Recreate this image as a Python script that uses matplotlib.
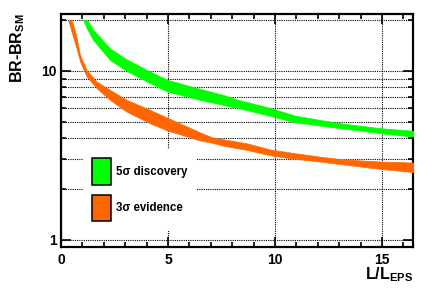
import matplotlib
matplotlib.use("Agg")
import matplotlib.pyplot as plt
from matplotlib.patches import Patch

plt.rcParams['font.family'] = ['Liberation Sans', 'DejaVu Sans']
plt.rcParams['font.weight'] = 'bold'
plt.rcParams['mathtext.fontset'] = 'custom'
plt.rcParams['mathtext.rm'] = 'Liberation Sans:bold'
plt.rcParams['mathtext.bf'] = 'Liberation Sans:bold'
plt.rcParams['mathtext.it'] = 'Liberation Sans:bold'

# 5 sigma discovery band
green_x = [1.04, 1.21, 1.51, 2.29, 3.07, 4.16, 4.99, 6.50, 7.58, 8.36, 9.77, 10.93, 12.10, 13.27, 14.95, 16.5]
green_hi = [20, 20, 17.5, 13.6, 11.7, 9.9, 8.84, 7.83, 7.21, 6.70, 6.04, 5.44, 5.13, 4.86, 4.58, 4.42]
green_lo = [20, 17.8, 15.2, 11.6, 10.0, 8.46, 7.54, 6.74, 6.29, 6.00, 5.42, 4.97, 4.75, 4.55, 4.28, 4.08]

# 3 sigma evidence band
orange_x = [0.34, 0.50, 0.70, 0.89, 1.20, 1.67, 2.29, 3.07, 4.16, 4.99, 6.50, 7.05, 7.58, 8.68, 9.77, 10.93, 12.10, 13.27, 14.95, 16.5]
orange_hi = [20, 20, 16.3, 12.4, 10.1, 8.64, 7.72, 6.74, 5.88, 5.27, 4.33, 4.05, 3.94, 3.73, 3.43, 3.26, 3.11, 2.99, 2.91, 2.87]
orange_lo = [20, 17.0, 14.0, 11.4, 9.26, 7.9, 6.74, 5.74, 4.90, 4.43, 3.88, 3.76, 3.61, 3.41, 3.17, 3.02, 2.91, 2.79, 2.63, 2.52]

labels = ["5\u03c3 discovery", "3\u03c3 evidence"]
colors = ["#00ff00", "#ff6600"]

x_major = [0, 5, 10, 15]
x_minor = list(range(0, 17))
y_major = [1, 10]
y_minor = [2, 3, 4, 5, 6, 7, 8, 9, 20]

fig = plt.figure(figsize=(4.36, 2.95), dpi=100)
ax = fig.add_axes([61/436, 1-247.3/295, 352/436, 233.3/295])

ax.fill_between(green_x, green_lo, green_hi, color=colors[0], lw=0.5, zorder=3)
ax.fill_between(orange_x, orange_lo, orange_hi, color=colors[1], lw=0.5, zorder=3)

ax.set_yscale('log')
ax.set_xlim(0, 16.45)
ax.set_ylim(0.905, 21.7)
ax.set_xticks(x_major)
ax.set_xticks(x_minor, minor=True)
ax.set_yticks(y_major)
ax.set_yticks(y_minor, minor=True)
ax.set_xticklabels([str(v) for v in x_major])
ax.set_yticklabels([str(v) for v in y_major])
ax.yaxis.set_minor_formatter(matplotlib.ticker.NullFormatter())

grid_kw = dict(color='black', linestyle=(0, (1, 1)), linewidth=0.8)
ax.grid(True, which='major', axis='x', **grid_kw)
ax.grid(True, which='both', axis='y', **grid_kw)
ax.set_axisbelow(True)

for s in ax.spines.values():
    s.set_linewidth(1.6)
ax.tick_params(which='both', direction='in', top=True, right=True, width=1.2)
ax.tick_params(which='major', length=7)
ax.tick_params(which='minor', length=3.5)
ax.tick_params(axis='x', which='major', pad=4, labelsize=10)
ax.tick_params(axis='y', which='major', pad=3, labelsize=10)

handles = [Patch(facecolor=c, edgecolor='black', linewidth=1.1) for c in colors]
leg = ax.legend(handles, labels, loc='upper left', bbox_to_anchor=(0.0625, 0.421),
                borderaxespad=0, frameon=True, fancybox=False, framealpha=1,
                facecolor='white', edgecolor='none', prop={'size': 8.3, 'weight': 'bold'},
                handlelength=1.65, handleheight=3.2, handletextpad=0.4,
                labelspacing=0.82, borderpad=0.8)
leg.set_zorder(5)

fig.text(0.041, 0.956, r"BR-BR$_\mathrm{SM}$", rotation=90, ha='center', va='top',
         fontsize=11.5, fontweight='bold')
fig.text(413/436, 1-279.5/295, r"L/L$_\mathrm{EPS}$", ha='right', va='baseline',
         fontsize=11.5, fontweight='bold')

fig.savefig("out.png", dpi=100)
